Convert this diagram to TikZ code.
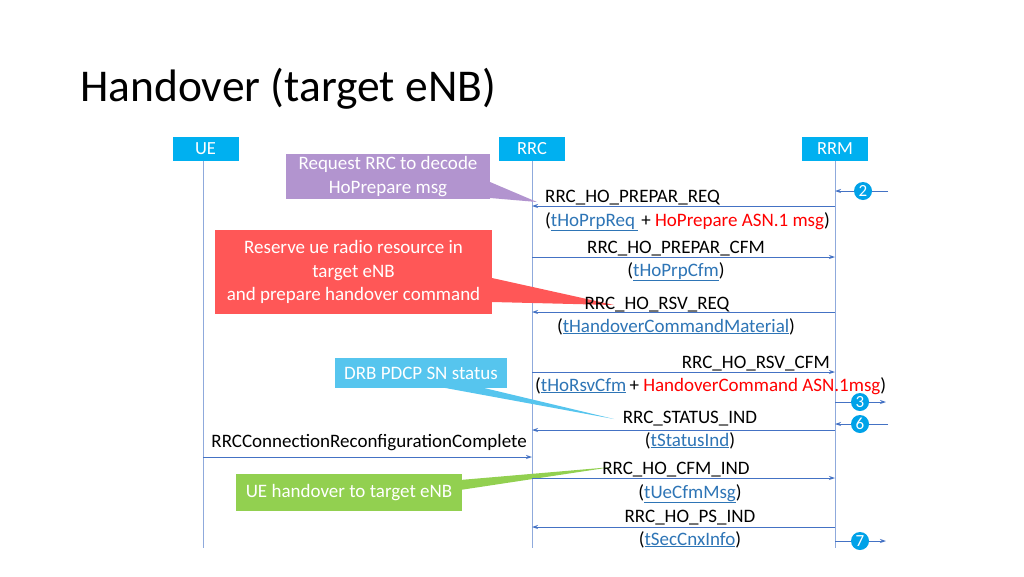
\documentclass[tikz,border=0pt]{standalone}
\usepackage{fontspec}
\setmainfont{Carlito}
\usetikzlibrary{arrows.meta}
\definecolor{hdr}{HTML}{00B0F0}
\definecolor{life}{HTML}{8FAADC}
\definecolor{msg}{HTML}{4472C4}
\definecolor{lnk}{HTML}{2E75B6}
\definecolor{redt}{HTML}{FF0000}
\definecolor{cpur}{HTML}{B294CF}
\definecolor{cred}{HTML}{FF5757}
\definecolor{cblu}{HTML}{56C5EE}
\definecolor{cgrn}{HTML}{92D050}
\definecolor{circ}{HTML}{00A2E8}
\newcommand{\lk}[1]{{\color{lnk}\underline{#1}}}
\newcommand{\rt}[1]{{\color{redt}#1}}
\begin{document}
\begin{tikzpicture}[x=1pt,y=-1pt,
  hdrbox/.style={fill=hdr,text=white,minimum width=66pt,minimum height=24pt,inner sep=0pt,font=\fontsize{18.5}{20}\selectfont},
  lifeline/.style={draw=life,line width=0.8pt},
  msgarrow/.style={draw=msg,line width=0.9pt,-{Stealth[length=6pt,width=4pt]}},
  lbl/.style={inner sep=0pt,font=\fontsize{19}{22}\selectfont,anchor=base},
  callout/.style={text=white,inner sep=0pt,align=center,font=\fontsize{19}{23.5}\selectfont},
  num/.style={circle,fill=circ,text=white,minimum size=18pt,inner sep=0pt,font=\fontsize{17}{17}\selectfont}]
\useasboundingbox (0,0) rectangle (1024,576);
\fill[white] (0,0) rectangle (1024,576);
% title
\node[anchor=base west,inner sep=0pt,font=\fontsize{45.5}{50}\selectfont] (title) at (80,101) {Handover (target eNB)};
% headers
\node[hdrbox] (ue) at (205.5,149) {UE};
\node[hdrbox] (rrc) at (532,149) {RRC};
\node[hdrbox] (rrm) at (835,149) {RRM};
\coordinate (ueb) at (203,548);
\coordinate (rrcb) at (532,548);
\coordinate (rrmb) at (835,548);
\draw[lifeline] (203,161) -- (ueb);
\draw[lifeline] (rrc.south) -- (rrcb);
\draw[lifeline] (rrm.south) -- (rrmb);
% callouts
\fill[cpur] (490,182) -- (537,202) -- (490,198) -- cycle;
\node[callout,fill=cpur,minimum width=204pt,minimum height=45pt] (c1) at (388,176.5) {Request RRC to decode\\HoPrepare msg};
\fill[cred] (492,278) -- (614,305) -- (492,302) -- cycle;
\node[callout,fill=cred,minimum width=277pt,minimum height=84pt] (c2) at (353.5,272) {Reserve ue radio resource in\\target eNB\\and prepare handover command};
\fill[cblu] (440,387) -- (614,419) -- (480,387) -- cycle;
\node[callout,fill=cblu,minimum width=172pt,minimum height=30pt] (c3) at (421,373) {DRB PDCP SN status};
\fill[cgrn] (460,480) -- (612,467) -- (460,490) -- cycle;
\node[callout,fill=cgrn,minimum width=226pt,minimum height=37pt] (c4) at (349,492.5) {UE handover to target eNB};
% coordinates on lifelines
\coordinate (a1r) at (835,206); \coordinate (a1l) at (532,206);
\coordinate (a2l) at (532,257); \coordinate (a2r) at (835,257);
\coordinate (a3r) at (835,312); \coordinate (a3l) at (532,312);
\coordinate (a4l) at (532,372); \coordinate (a4r) at (835,372);
\coordinate (a5r) at (835,430); \coordinate (a5l) at (532,430);
\coordinate (a6u) at (203,457); \coordinate (a6r) at (532,457);
\coordinate (a7l) at (532,478); \coordinate (a7r) at (835,478);
\coordinate (a8r) at (835,527); \coordinate (a8l) at (532,527);
\draw[msgarrow] (a1r) -- (a1l);
\draw[msgarrow] (a2l) -- (a2r);
\draw[msgarrow] (a3r) -- (a3l);
\draw[msgarrow] (a4l) -- (a4r);
\draw[msgarrow] (a5r) -- (a5l);
\draw[msgarrow] (a6u) -- (a6r);
\draw[msgarrow] (a7l) -- (a7r);
\draw[msgarrow] (a8r) -- (a8l);
% labels
\node[lbl,anchor=base west] (l1) at (545,202) {RRC\_HO\_PREPAR\_REQ};
\node[lbl,anchor=base west] (l1b) at (545,226) {(\lk{tHoPrpReq\,}\,+ \rt{HoPrepare ASN.1 msg})};
\node[lbl] (l2) at (676,253) {RRC\_HO\_PREPAR\_CFM};
\node[lbl] (l2b) at (676,276) {(\lk{tHoPrpCfm})};
\node[lbl] (l3) at (657,309) {RRC\_HO\_RSV\_REQ};
\node[lbl] (l3b) at (676,332) {(\lk{tHandoverCommandMaterial})};
\node[lbl,anchor=base east] (l4) at (830,368) {RRC\_HO\_RSV\_CFM};
\node[lbl,anchor=base west] (l4b) at (535,391) {(\lk{tHoRsvCfm}\,+ \rt{HandoverCommand ASN.1msg})};
\node[lbl] (l5) at (690,423) {RRC\_STATUS\_IND};
\node[lbl] (l5b) at (690,446) {(\lk{tStatusInd})};
\node[lbl,anchor=base east] (l6) at (527,447) {RRCConnectionReconfigurationComplete};
\node[lbl] (l7) at (676,474) {RRC\_HO\_CFM\_IND};
\node[lbl] (l7b) at (690,498) {(\lk{tUeCfmMsg})};
\node[lbl] (l8) at (690,522) {RRC\_HO\_PS\_IND};
\node[lbl] (l8b) at (690,545) {(\lk{tSecCnxInfo})};
% numbered side messages
\node[num] (n2) at (863,191) {2};
\node[num] (n3) at (860,402) {3};
\node[num] (n6) at (860,424) {6};
\node[num] (n7) at (860,541) {7};
\coordinate (n2e) at (888,191); \coordinate (n2t) at (835,191);
\coordinate (n3t) at (886,402); \coordinate (n3s) at (835,402);
\coordinate (n6e) at (888,424); \coordinate (n6t) at (835,424);
\coordinate (n7t) at (886,541); \coordinate (n7s) at (835,541);
\draw[msg,line width=0.9pt] (n2e) -- (n2.east);
\draw[msgarrow] (n2.west) -- (n2t);
\draw[msg,line width=0.9pt] (n3s) -- (n3.west);
\draw[msgarrow] (n3.east) -- (n3t);
\draw[msg,line width=0.9pt] (n6e) -- (n6.east);
\draw[msgarrow] (n6.west) -- (n6t);
\draw[msg,line width=0.9pt] (n7s) -- (n7.west);
\draw[msgarrow] (n7.east) -- (n7t);
\end{tikzpicture}
\end{document}
